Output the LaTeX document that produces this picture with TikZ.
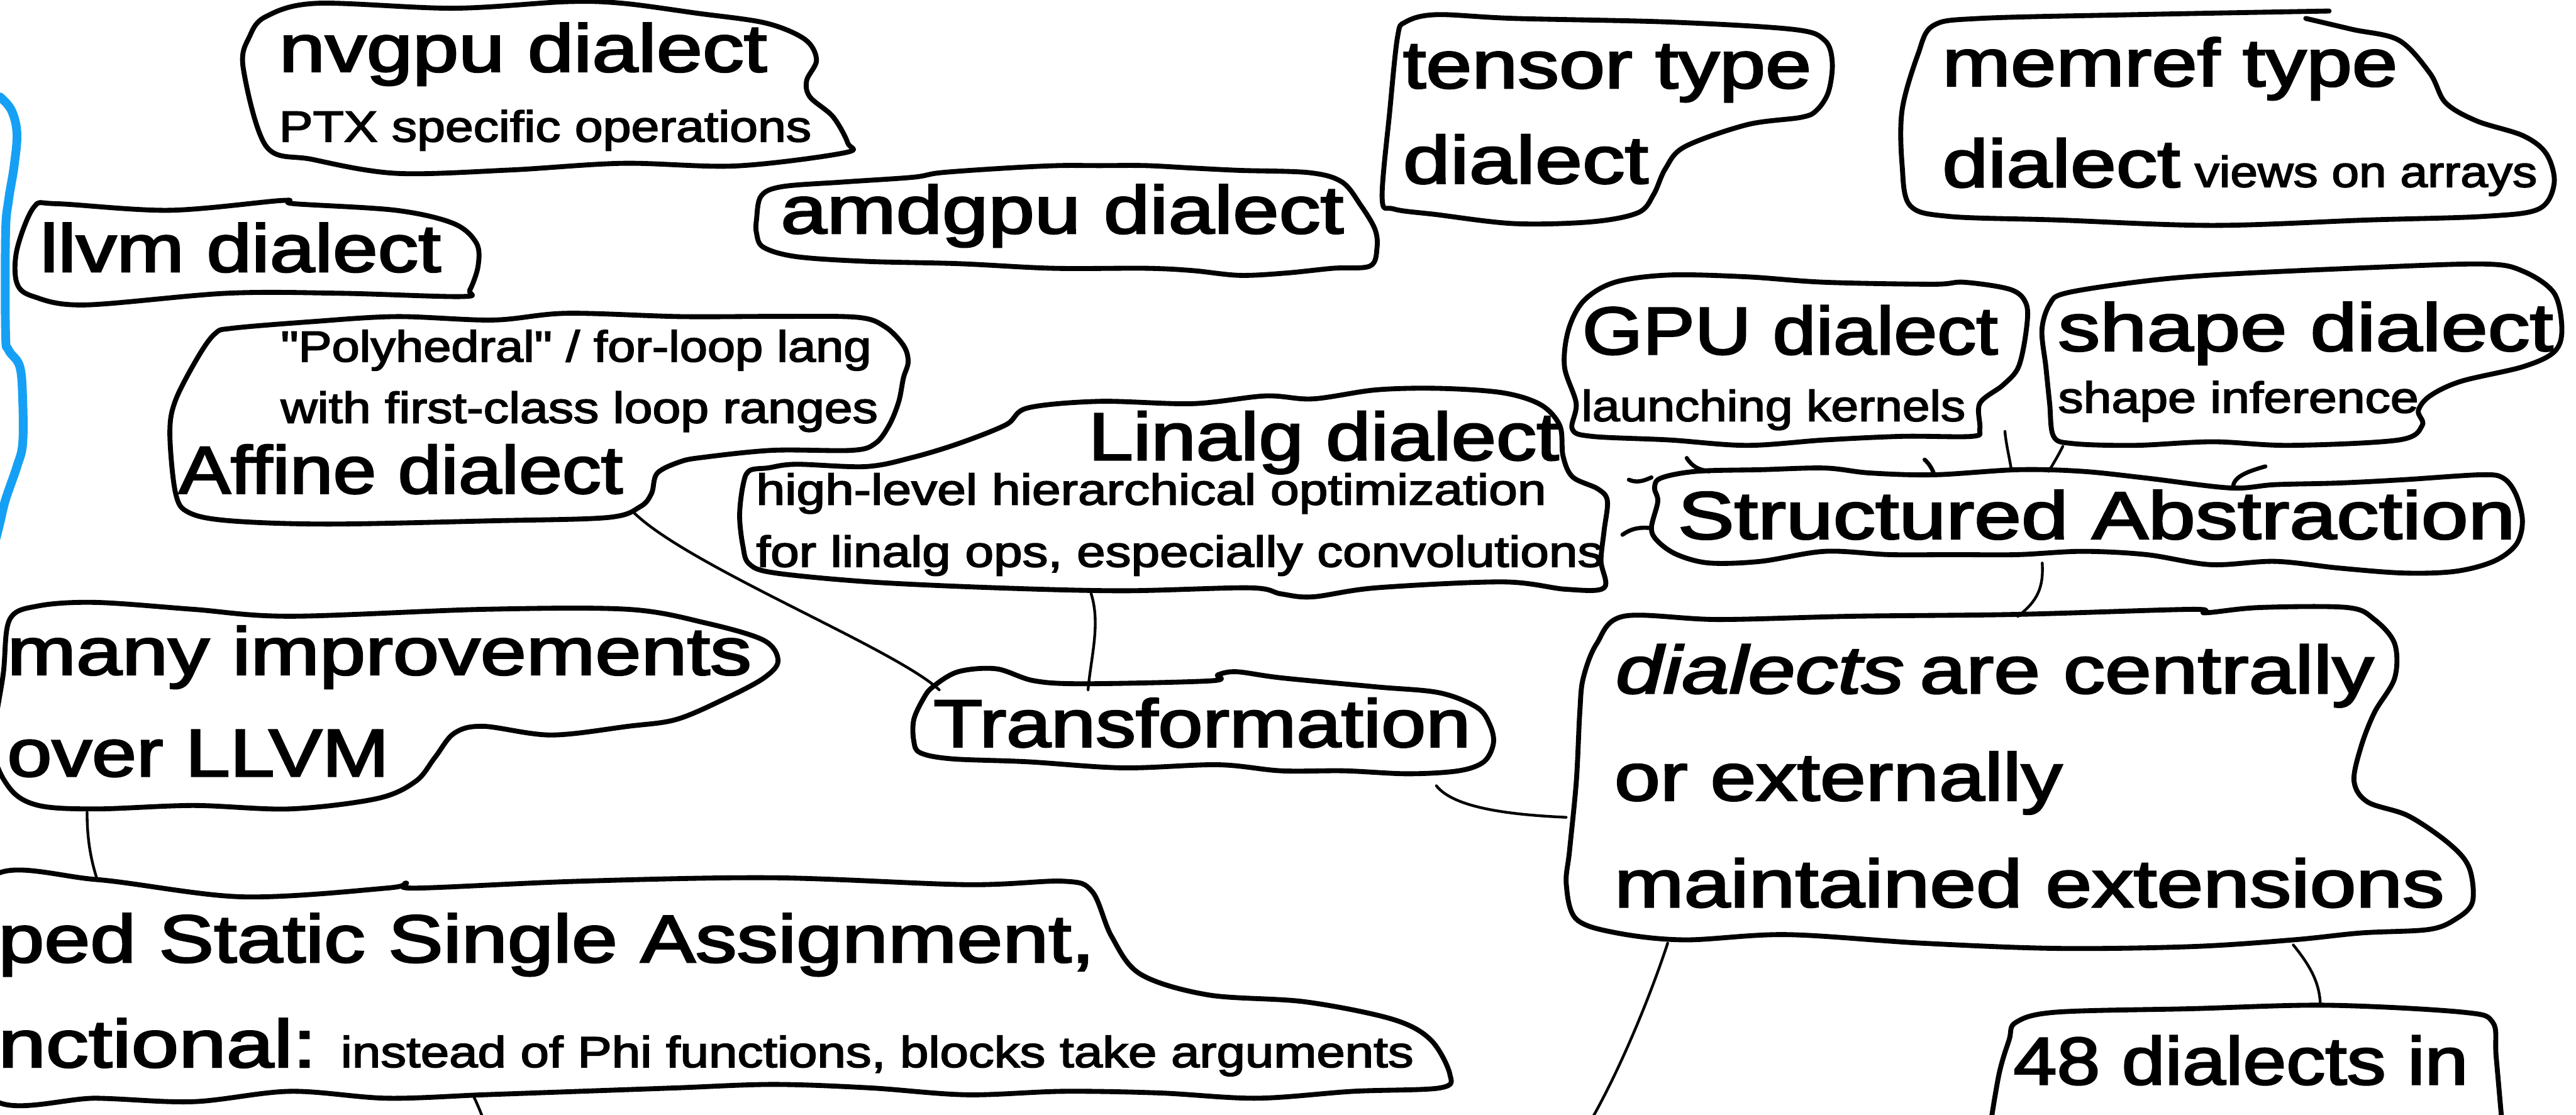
\documentclass[tikz,border=0pt]{standalone}
\usepackage{fontspec}
\usepackage{graphicx}
\newfontfamily\hand{Liberation Sans}[FakeBold=2.4]
\newlength\pxu
\setlength\pxu{0.3pt}
% a line of text: font size #1 and set width #2 (both in drawing units)
\newcommand\fitw[3]{\resizebox{\dimexpr#2\pxu+3\pxu\relax}{\height}{\hand\fontsize{#1\pxu}{#1\pxu}\selectfont #3}}
\newcommand\tb[2]{\fitw{41}{#1}{#2}}
\newcommand\ts[2]{\fitw{26.5}{#1}{#2}}
\definecolor{penblue}{RGB}{22,160,245}
\tikzset{
  lbl/.style={anchor=base west, inner sep=0pt, outer sep=0pt, xshift=-0.45pt},
  bubble/.style={draw=black, line width=0.9pt, line join=round, line cap=round},
  link/.style={draw=black, line width=0.5pt, line cap=round},
  tick/.style={draw=black, line width=0.75pt, line cap=round},
}
\begin{document}
\begin{tikzpicture}[x=0.3pt,y=-0.3pt]
\useasboundingbox (0,0) rectangle (1568,678.55);
\fill[white] (0,0) rectangle (1568,678.55);
\clip (0,0) rectangle (1568,678.55);

% blue margin stroke
\draw[penblue, line width=1.6pt, line cap=round, line join=round]
  plot[smooth, tension=0.6] coordinates {(0,59) (6.9,67) (10.3,81) (8.6,101) (5.2,122) (3.4,142) (3.4,203) (5.2,213) (12,223) (13.8,243) (13.8,270) (10.3,284) (3.4,304) (0,318) (-3,330)};

% ---------- bubbles ----------
% nvgpu
\draw[bubble] plot[smooth cycle, tension=0.55] coordinates {(152,22) (162,10) (193,2) (276,5) (345,1) (379,2) (424,8) (466,14) (490,24) (497,36.5) (491,49) (493,59) (507,71) (516,87) (514,93) (448,101) (379,99.4) (310,103.5) (241,105.5) (190,97) (162,89) (148,41)};
% llvm
\draw[bubble] plot[smooth cycle, tension=0.55] coordinates {(20.7,126) (34.5,124) (103,128) (172,122) (179,124) (241,128) (276,136) (290,148) (291,162) (286,176.5) (281,180.5) (207,178.5) (138,178.5) (51.7,185.6) (20.7,180.6) (10.3,172.4) (10.3,152)};
% amdgpu
\draw[bubble] plot[smooth cycle, tension=0.55] coordinates {(463.3,119.3) (476.1,113.6) (513,110.8) (555.6,107.9) (572.7,105.1) (612.4,102.3) (643.7,100.8) (669.2,100.8) (697.6,100.8) (726,102.3) (754.4,103.7) (797,105.1) (816.9,110.8) (828.3,125) (836.8,139.2) (838.2,150.5) (834,161.9) (811.3,163.3) (782.8,166.2) (754.4,167.6) (726,164.7) (697.6,163.3) (640.8,163.3) (584,160.5) (527.2,159.1) (484.6,156.2) (464.7,150.5) (460.5,142) (460.5,133.5)};
% tensor type
\draw[bubble] plot[smooth cycle, tension=0.55] coordinates {(855.5,13.4) (874.3,8.9) (921.6,11.2) (1016,13.4) (1091.7,17.9) (1110.6,24.5) (1115.3,37.9) (1113,55.8) (1105.9,67) (1096.4,71.4) (1063.4,75.9) (1025.5,89.3) (1013.7,102.7) (1006.6,118.3) (997.2,129.4) (968.9,135) (921.6,136.1) (874.3,130.6) (848.4,127.2) (841.3,120.5) (846,67) (850.7,22.3)};
% memref type (open at the top)
\draw[bubble] plot[smooth, tension=0.55] coordinates {(1417.7,6.7) (1299.6,8.9) (1205.1,11.2) (1176.7,15.6) (1167.3,33.5) (1157.8,67) (1157.8,100.4) (1162.6,125) (1186.2,131.7) (1252.3,133.9) (1346.8,137.2) (1441.3,133.9) (1512.2,131.7) (1545.3,127.2) (1554.7,111.6) (1550,93.7) (1535.8,82.6) (1507.5,73.6) (1488.6,62.5) (1479.1,44.6) (1460.2,24.5) (1431.9,17.9) (1403.5,11.2)};
% GPU
\draw[bubble] plot[smooth cycle, tension=0.55] coordinates {(964.1,183) (983,171.8) (1016.1,167.4) (1063.3,168.5) (1110.6,171.8) (1176.7,173) (1195.6,171.8) (1224,176.3) (1233.4,185.2) (1233.4,200.8) (1228.7,223.2) (1219.3,234.3) (1205.1,245.5) (1205.1,261.1) (1200.4,265.6) (1157.8,265.6) (1110.6,267.8) (1063.3,271.1) (1016.1,267.8) (968.9,265.6) (957,261.1) (959.4,245.5) (952.3,223.2) (954.7,200.8)};
% shape
\draw[bubble] plot[smooth cycle, tension=0.55] coordinates {(1257.1,178.5) (1299.6,171.8) (1346.8,167.4) (1441.3,162.9) (1512.2,160.7) (1535.8,165.1) (1554.7,178.5) (1559.4,200.8) (1554.7,214.2) (1535.8,223.2) (1498,232.1) (1479.1,241) (1472,250) (1474.4,258.9) (1460.2,267.8) (1394,271.1) (1346.8,268.9) (1299.6,271.1) (1261.8,270) (1250,265.6) (1247.6,245.5) (1245.3,223.2) (1242.9,200.8) (1247.6,185.2)};
% Structured Abstraction
\draw[bubble] plot[smooth cycle, tension=0.55] coordinates {(1011,291) (1032.6,286.9) (1071.7,285.9) (1110.8,284.9) (1138.2,287.9) (1177.4,289) (1228.2,285.9) (1267.4,286.9) (1306.5,291) (1357.4,297) (1384.8,295) (1423.9,294) (1463,292) (1510,289) (1523.7,291) (1531.5,301.1) (1535.4,317.3) (1531.5,331.5) (1517.8,341.7) (1494.4,347.8) (1463,348.8) (1423.9,345.8) (1384.8,341.7) (1345.6,343.7) (1306.5,337.6) (1267.4,335.6) (1228.2,337.6) (1189.1,337.6) (1150,337.6) (1110.8,335.6) (1071.7,341.7) (1040.4,342.7) (1020.8,337.6) (1009.1,329.5) (1005.2,321.4) (1009.1,305.2) (1007.1,297)};
% Linalg
\draw[bubble] plot[smooth cycle, tension=0.55] coordinates {(625.6,248.3) (669.2,244.3) (726,245.7) (770.2,241) (799.1,242.8) (837.7,237.3) (876.2,236.4) (914.8,239.1) (937.9,246.4) (949.5,259.2) (951.4,277.5) (957.2,290.3) (972.6,297.6) (978.4,304.9) (976.4,323.1) (974.5,341.4) (976.4,357.8) (953.3,358.7) (914.8,354.2) (837.7,357.8) (799.1,363.3) (779.8,361.5) (760.5,357.8) (683.5,359.6) (606.4,357.8) (529.2,354.2) (471.4,348.7) (456,343.2) (452.2,332.3) (450.2,314) (452.2,295.7) (456,286.6) (467.6,284.8) (484.6,282.6) (527.2,284) (555.6,278.4) (584,269.8) (612.4,258.5)};
% Transformation
\draw[bubble] plot[smooth cycle, tension=0.55] coordinates {(583.2,408.9) (606.4,407.1) (629.5,414.4) (660.3,416.2) (737.4,414.4) (741.3,410.8) (752.8,408.9) (779.8,412.6) (837.7,418.1) (876.2,421.7) (899.3,430.8) (907.1,441.8) (909,452.7) (903.2,463.7) (887.8,469.2) (856.9,471) (818.4,469.2) (779.8,469.2) (741.3,465.5) (683.5,467.4) (625.6,463.7) (579.4,461.9) (560.1,458.2) (556.2,450.9) (556.2,438.1) (562,425.4) (567.8,418.1)};
% Affine
\draw[bubble] plot[smooth cycle, tension=0.55] coordinates {(131,203) (141.4,199.8) (189.7,195.8) (241.4,192.7) (300,194.8) (344.8,190.7) (413.8,192.7) (470.4,192.6) (521.5,193.1) (538.6,198.8) (549.9,210.2) (552.8,220.1) (549.9,230.1) (547.1,244.3) (541.4,258.5) (532.9,269.8) (518.7,274.1) (470.4,274.1) (427.8,278.4) (413.6,281.2) (400,288.1) (396.6,300.3) (389.7,308.4) (370,315) (300,317) (200,319) (140,317) (115,312) (106.9,300.3) (103.4,263.7) (106.9,243.5) (120.7,217)};
% many improvements
\draw[bubble] plot[smooth cycle, tension=0.55] coordinates {(5.9,377.1) (23.5,368.8) (58.8,366.7) (117.7,370.9) (176.5,375.1) (294.2,370.9) (382.4,370.9) (429.5,379.2) (464.8,389.7) (473.6,402.3) (464.8,412.8) (441.3,425.3) (411.8,437.9) (382.4,442.1) (335.4,447.4) (294.2,442.1) (276.5,446.3) (264.8,461) (253,475.6) (229.5,486.1) (176.5,492.4) (117.7,490.3) (58.8,492.4) (23.5,490.3) (5.9,479.8) (-4,455) (2,410)};
% SSA
\draw[bubble] plot[smooth cycle, tension=0.55] coordinates {(-5,534) (58.8,535.4) (147.1,545.9) (235.3,540.6) (247.1,537.5) (253,540.6) (353,536.4) (470.7,534.3) (588.3,538.5) (647.2,536.4) (664.8,542.7) (676.6,570) (694.2,593) (735.4,605.6) (794.3,609.8) (847.2,620.3) (870.7,632.8) (882.5,653.8) (876.6,662.2) (823.7,664.3) (764.8,668.5) (706,665.3) (647.2,664.3) (588.3,666.4) (529.5,662.2) (470.7,660.1) (411.8,662.2) (353,664.3) (294.2,666.4) (235.3,668.5) (176.5,664.3) (117.7,670.6) (58.8,668.5) (-5,668.5) (-15,600)};
% dialects
\draw[bubble] plot[smooth cycle, tension=0.55] coordinates {(988.4,375.1) (1046,377.1) (1128.3,375.1) (1227.1,374) (1334.1,370.9) (1342.4,373) (1375.3,369.8) (1428.8,369.8) (1445.3,377.1) (1457.6,391.8) (1457.6,412.8) (1445.3,433.7) (1437.1,454.7) (1432.9,475.6) (1441.2,488.2) (1465.9,496.6) (1490.6,513.4) (1502.9,528) (1505,549) (1494.7,559.5) (1478.2,565.8) (1437.1,567.9) (1395.9,572.1) (1334.1,576.2) (1251.8,577.3) (1169.5,574.1) (1087.2,568.9) (1025.4,572.1) (984.2,567.9) (959.5,559.5) (953.4,538.5) (955.4,517.6) (959.5,475.6) (961.6,433.7) (963.7,412.8) (971.9,391.8)};
% 48 dialects
\draw[bubble] plot[smooth, tension=0.55] coordinates {(1210.7,690) (1216.8,653.8) (1223,632.8) (1227.1,622.3) (1251.8,616.1) (1334.1,614) (1416.5,611.9) (1498.8,616.1) (1517.3,622.3) (1519.4,643.3) (1523.5,690)};

% ---------- texts ----------
\node[lbl] (nvgpu) at (171.4,43.6) {\tb{294}{nvgpu dialect}};
\node[lbl] (nvgpu-d) at (171.4,86.2) {\ts{321}{PTX specific operations}};
\node[lbl] (llvm) at (25.9,165.4) {\tb{241}{llvm dialect}};
\node[lbl] (amdgpu) at (476.7,142) {\tb{339.7}{amdgpu dialect}};
\node[lbl] (tensor) at (855.5,53.6) {\tb{245.6}{tensor type}};
\node[lbl] (tensor-2) at (855.5,111.6) {\tb{146.4}{dialect}};
\node[lbl] (memref) at (1183.8,52.4) {\tb{274.1}{memref type}};
\node[lbl] (memref-2) at (1183.8,113.8) {\tb{141.8}{dialect}};
\node[lbl] (memref-d) at (1337.4,113.8) {\ts{205.5}{views on arrays}};
\node[lbl] (gpu) at (964.6,215.6) {\tb{250}{GPU dialect}};
\node[lbl] (gpu-d) at (964.1,256.3) {\ts{230.8}{launching kernels}};
\node[lbl] (shape) at (1254.2,213.5) {\tb{298.5}{shape dialect}};
\node[lbl] (shape-d) at (1254.2,251.2) {\ts{216.5}{shape inference}};
\node[lbl] (struct) at (1022.8,328) {\tb{506.8}{Structured Abstraction}};
\node[lbl] (linalg) at (664,280) {\tb{283.5}{Linalg dialect}};
\node[lbl] (linalg-d1) at (461.8,307.2) {\ts{478}{high-level hierarchical optimization}};
\node[lbl] (linalg-d2) at (461.8,345) {\ts{512.7}{for linalg ops, especially convolutions}};
\node[lbl] (trans) at (569.7,454.6) {\tb{323.9}{Transformation}};
\node[lbl] (affine-d1) at (172.4,220.1) {\ts{356.5}{"Polyhedral" / for-loop lang}};
\node[lbl] (affine-d2) at (172.4,257.4) {\ts{360.5}{with first-class loop ranges}};
\node[lbl] (affine) at (110.3,300.3) {\tb{267.3}{Affine dialect}};
\node[lbl] (many) at (5.9,410.7) {\tb{450.1}{many improvements}};
\node[lbl] (many-2) at (5.9,472.5) {\tb{229.4}{over LLVM}};
\node[lbl] (ssa) at (0.5,585.7) {\tb{664.3}{ped Static Single Assignment,}};
\node[lbl] (ssa-2) at (0.5,649.6) {\tb{190.7}{nctional:}};
\node[lbl] (ssa-d) at (208.9,649.6) {\ts{650.1}{instead of Phi functions, blocks take arguments}};
\node[lbl] (dial-1a) at (985,422) {\tb{172.5}{\itshape dialects}};
\node[lbl] (dial-1b) at (1170,422) {\tb{273.5}{are centrally}};
\node[lbl] (dial-2) at (984.2,487.2) {\tb{269.7}{or externally}};
\node[lbl] (dial-3) at (984.2,552.1) {\tb{502.2}{maintained extensions}};
\node[lbl] (n48) at (1227.1,660.1) {\tb{273.8}{48 dialects in}};

% ---------- connector ends ----------
\coordinate (affine-out) at (386.2,312.4);
\coordinate (trans-nw) at (571.7,419.9);
\coordinate (linalg-s) at (664.2,361.5);
\coordinate (trans-n) at (662.3,419.9);
\coordinate (trans-se) at (874.3,478.3);
\coordinate (dial-w) at (953.3,497.5);
\coordinate (struct-s) at (1243.1,342.7);
\coordinate (dial-n) at (1228.2,375.2);
\coordinate (gpu-se) at (1220.4,262.6);
\coordinate (struct-n1) at (1224.3,285.9);
\coordinate (shape-sw) at (1255.6,271.7);
\coordinate (struct-n2) at (1247,286.9);
\coordinate (many-s) at (53,494.5);
\coordinate (ssa-n) at (58.8,534.3);
\coordinate (ssa-s) at (288.3,667.4);
\coordinate (ssa-down) at (297.1,690);
\coordinate (dial-sw) at (1015.1,574.1);
\coordinate (dial-down) at (963.7,690);
\coordinate (dial-se) at (1395.9,575.2);
\coordinate (n48-n) at (1412.4,611.9);
\coordinate (linalg-e1) at (991.5,292);
\coordinate (struct-w1) at (1005.2,290.6);
\coordinate (linalg-e2) at (987.6,325.5);
\coordinate (struct-w2) at (1005.2,321.4);
\coordinate (tk1a) at (1026.7,278.8);
\coordinate (tk1b) at (1040.4,286.9);
\coordinate (tk2a) at (1171.5,279.8);
\coordinate (tk2b) at (1177.4,289);
\coordinate (tk3a) at (1378.9,283.9);
\coordinate (tk3b) at (1359.3,296);

% ---------- connectors ----------
\draw[link] (affine-out) .. controls (420,345) and (545,395) .. (trans-nw);
\draw[link] (linalg-s) .. controls (670,380) and (664,400) .. (trans-n);
\draw[link] (trans-se) .. controls (885,492) and (920,496) .. (dial-w);
\draw[link] (struct-s) .. controls (1244,358) and (1240,366) .. (dial-n);
\draw[link] (gpu-se) .. controls (1221,270) and (1223,278) .. (struct-n1);
\draw[link] (shape-sw) .. controls (1253,277) and (1250,282) .. (struct-n2);
\draw[link] (many-s) .. controls (53,510) and (55,522) .. (ssa-n);
\draw[link] (ssa-s) .. controls (291,673) and (294,680) .. (ssa-down);
\draw[link] (dial-sw) .. controls (1005,605) and (985,655) .. (dial-down);
\draw[link] (dial-se) .. controls (1408,590) and (1412,600) .. (n48-n);
\draw[tick] (linalg-e1) .. controls (996,294) and (1000,293) .. (struct-w1);
\draw[tick] (linalg-e2) .. controls (994,321) and (999,321) .. (struct-w2);
\draw[tick] (tk1a) .. controls (1030,284) and (1034,286) .. (tk1b);
\draw[tick] (tk2a) .. controls (1174,282) and (1176,285) .. (tk2b);
\draw[tick] (tk3a) .. controls (1368,287) and (1360,290) .. (tk3b);
\end{tikzpicture}
\end{document}
